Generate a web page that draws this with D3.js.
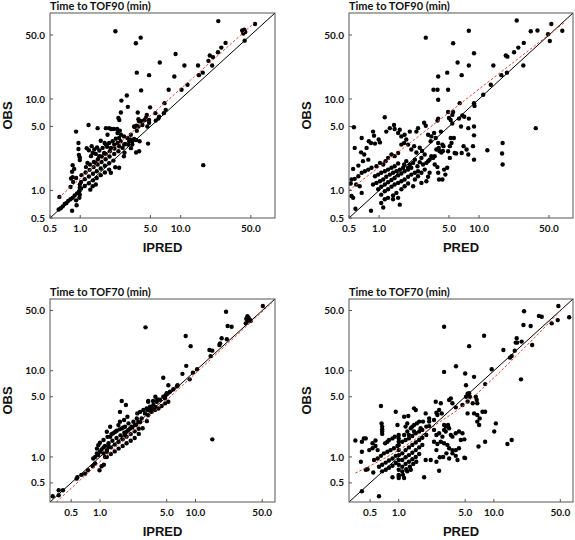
<!DOCTYPE html>
<html><head><meta charset="utf-8">
<script src="https://cdn.jsdelivr.net/npm/d3@7"></script>
<style>body{margin:0;background:#fff}svg{display:block}</style>
</head><body>
<svg id="chart" width="575" height="540"></svg>
<script>
// ---------------- data ----------------
const tickValues = [0.5, 1, 5, 10, 50];
const titles = ["Time to TOF90 (min)", "Time to TOF90 (min)", "Time to TOF70 (min)", "Time to TOF70 (min)"];
const xLabels = ["IPRED", "PRED", "IPRED", "PRED"];
const yLabel = "OBS";
const domainTOF90 = [0.5, 87];
const domainTOF70 = [0.3, 68];

// [x (IPRED or PRED), y (OBS)]
const tof90Ipred = [
[23.7,71],[55,66],[2.24,55],[41,56],[43,57],[42,52],[44,54],[43.4,43.4],[4.0,46.8],[3.58,40.6],[28,41],[25.4,36.4],[8.9,31],[19.5,29.8],[21,28.6],[23.5,32.4],[18.9,26.1],[20.6,23.2],[6.2,25],[10.9,23.2],[14.9,23.2],[16.6,19.4],[15.2,18.2],[3.66,19.4],[4.85,18.2],[8.65,17.6],[11.7,14.3],[10.2,12.6],[7.6,12.6],[4.04,12.4],[2.91,10.9],[2.57,9.6],[6.9,9.0],[2.98,8.2],[4.96,8.1],[2.54,7.1],[3.74,7.1],[4.6,6.7],[5.6,7.0],[6.0,6.1],[2.4,6.2],[2.45,5.9],[3.8,6.0],[3.85,5.7],[4.26,5.8],[4.4,5.9],[3.44,5.0],[3.5,4.95],[3.66,4.5],[4.0,5.7],[4.16,5.2],[3.8,5.0],[3.62,5.1],[4.5,6.2],[4.85,5.9],[4.85,5.5],[4.66,5.0],[6.1,6.4],[5.65,5.8],[6.8,7.0],[7.1,7.6],
[1.21,5.2],[0.91,4.4],[1.49,4.8],[1.8,4.8],[1.94,4.8],[2.03,4.7],[2.16,4.7],[2.33,4.7],[2.48,4.5],[2.35,4.25],[2.54,4.07],[2.73,3.9],[2.95,3.75],[3.07,3.45],[3.3,3.17],[3.2,2.9],[2.8,3.23],[3.0,3.17],[3.19,4.07],[3.14,3.6],[3.3,3.45],[3.44,3.65],[3.6,3.55],[3.9,3.45],[3.6,2.6],[3.86,2.68],[4.74,3.25],[2.76,2.58],[2.72,2.36],[2.23,1.79],[2.44,1.77],[16.8,1.89],
[0.96,3.3],[0.96,2.84],[0.97,2.45],[0.99,2.3],[0.99,2.15],[0.84,1.89],[0.87,1.72],[0.83,1.6],[0.84,1.4],[0.91,1.37],[0.85,1.24],[0.81,1.35],[0.8,1.09],
[0.99,1.16],[0.99,1.07],[0.98,0.98],[0.99,0.9],[0.98,0.83],[0.91,0.78],[0.83,0.6],[0.92,0.69],[0.62,0.85],
[0.61,0.62],[0.64,0.64],[0.67,0.67],[0.7,0.71],[0.73,0.73],[0.76,0.77],[0.8,0.8],[0.84,0.83],[0.88,0.88],[0.93,0.93],[0.97,0.97],
[1.02,1.05],[1.11,1.12],[1.22,1.2],[1.34,1.29],[1.46,1.37],[1.6,1.47],[1.76,1.57],[1.94,1.69],
[1.02,1.24],[1.11,1.33],[1.22,1.42],[1.34,1.52],[1.46,1.62],[1.6,1.74],[1.76,1.86],[1.94,1.98],[2.14,2.12],
[1.03,1.47],[1.13,1.57],[1.24,1.68],[1.36,1.8],[1.49,1.92],[1.63,2.05],[1.79,2.19],[1.96,2.35],[2.18,2.51],[2.4,2.68],
[1.14,1.8],[1.25,1.92],[1.37,2.05],[1.5,2.19],[1.64,2.35],[1.8,2.51],[1.97,2.68],[2.19,2.87],[2.44,3.04],
[1.28,2.37],[1.43,2.51],[1.55,2.73],[1.67,2.92],[1.8,3.17],[1.94,3.3],[2.1,3.45],[2.26,3.68],[2.53,3.45],[2.74,3.17],[1.55,2.37],[1.73,2.57],[1.33,2.57],[1.18,2.0],[2.02,2.92],[2.18,3.17],[2.35,3.3],[2.44,3.75],[2.64,2.92],[1.87,4.07],[1.43,2.0],[1.26,1.02],[1.33,1.11],[1.43,1.16],[2.02,1.56],
[1.16,2.9],[1.22,2.75],[1.3,3.05],[1.38,2.8],[1.47,2.95],[1.6,3.5],[1.75,3.3],[1.85,3.0]
];

const tof90Pred = [
[23.8,72],[52.8,66],[68,55.7],[32.9,55],[38.4,56],[49,51],[51,43],[7.9,55.7],[2.93,46.8],[5.5,40.6],[28,41],[24.7,36.4],[8.9,31.6],[22.4,32.4],[18.5,29.8],[19.2,29],[6.1,25],[7.9,23.2],[13.9,23.2],[27.7,23.2],[4.8,19.4],[16.7,18.2],[19,19.4],[6.7,18.2],[3.9,17.6],[13.1,14.3],[11.0,11.1],[3.5,12.6],[3.84,12.6],[4.9,12.6],[3.9,9.8],[6.4,9.0],[8.9,9.0],[9.0,8.4],[4.9,7.2],[5.5,7.2],[5.4,6.7],[6.8,6.6],[7.1,6.4],[5.0,6.2],[5.2,5.9],[5.4,5.4],[6.3,6.1],[6.6,5.0],[7.9,6.1],[7.8,4.8],[8.9,5.0],[8.9,4.0],[36.9,4.8],[7.0,3.05],[7.8,2.47],[5.9,2.53],[12.1,2.75],[17.2,3.3],[17.0,2.53],[17.2,1.92],[5.2,3.75],[5.6,3.75],[4.8,1.77],[4.47,1.69],[4.6,1.49],[4.3,1.32],[3.98,1.32],[3.9,1.56],[3.9,6.1],[3.84,5.8],[4.15,4.4],[4.3,3.17],[4.4,3.05],[4.2,2.6],[4.35,2.7],[4.9,2.68],[5.1,2.27],[5.7,2.57],[5.1,3.05],[5.3,3.3],[6.7,2.57],[7.5,2.8],[8.7,3.05],[8.9,2.17],
[0.56,4.9],[1.14,6.3],[0.87,4.4],[0.89,3.97],[0.67,3.75],[0.57,2.92],[0.66,2.61],[0.75,2.92],[0.79,3.45],[0.83,3.3],[0.91,3.25],[0.99,3.6],[1.02,3.35],[1.18,4.4],[1.28,4.8],[1.41,5.2],[1.43,4.7],[1.55,4.25],[1.61,4.6],[1.67,3.9],[1.8,4.07],[1.87,3.6],[1.95,3.17],[1.78,3.3],[1.67,3.17],[2.1,2.8],[2.24,3.05],[2.36,2.6],[2.55,2.93],[2.69,2.7],[2.82,5.5],[2.93,5.1],[2.45,4.8],[2.36,4.4],[2.03,4.4],[3.09,4.07],[3.28,3.45],[3.33,3.9],[3.55,4.25],[3.68,3.75],[3.9,3.3],[3.95,2.92],[3.74,2.8],[4.03,2.68],[3.6,2.37],[3.33,2.37],[3.2,2.17],[2.97,2.0],[2.75,1.92],[2.55,2.04],[2.42,1.84],[2.28,2.17],[2.19,2.0],[2.03,1.92],[1.87,2.09],[1.78,1.92],[1.95,1.77],[1.55,2.57],[1.43,2.37],[1.33,2.47],[1.23,2.27],[1.16,2.09],[1.1,1.92],[1.02,2.0],[0.94,1.84],[0.84,1.77],[0.78,1.69],[0.72,1.62],[0.67,1.56],[0.62,1.43],[0.57,1.34],[0.53,1.32],[0.69,2.09],[0.62,1.87],[0.55,1.72],[0.78,2.17],[0.71,2.47],
[0.91,1.43],[0.98,1.49],[1.05,1.56],[1.14,1.62],[1.23,1.69],[1.33,1.77],[1.43,1.84],[1.55,1.97],
[0.87,1.16],[0.94,1.21],[1.02,1.26],[1.1,1.32],[1.18,1.41],[1.28,1.49],[1.38,1.56],[1.49,1.62],[1.61,1.69],[1.74,1.77],
[0.98,1.03],[1.05,1.1],[1.14,1.16],[1.23,1.23],[1.33,1.3],[1.43,1.37],[1.55,1.46],[1.67,1.53],[1.8,1.62],[1.95,1.69],[2.1,1.77],
[1.05,0.9],[1.14,0.98],[1.23,1.03],[1.33,1.1],[1.43,1.16],[1.55,1.21],[1.67,1.26],[1.8,1.32],[1.95,1.41],[2.1,1.49],[2.28,1.56],[2.45,1.62],
[1.05,0.73],[1.14,0.8],[1.23,0.83],[1.38,0.88],[1.49,0.94],[1.67,1.03],[1.8,1.11],[1.95,1.19],
[0.58,0.63],[0.83,0.6],[1.1,0.65],[1.38,0.8],[1.61,0.7],[1.55,0.83],[0.67,0.94],[0.55,0.83],[0.53,0.87],[0.64,1.11],[0.59,1.16],[0.52,1.19],
[2.65,2.27],[2.86,2.47],[3.09,2.09],[3.47,2.27],[3.6,1.92],[2.86,1.69],[2.65,1.56],[2.45,1.43],[2.28,1.32],[2.19,1.11],[2.65,1.21],[3.2,1.56],[3.09,1.41],[2.97,1.26],[3.83,1.8]
];

const tof70Ipred = [
[50.7,56.3],[20.9,48.3],[35,43],[36,41],[37,39],[38,38],[34,40],[35,38],[33.6,35.5],[21.7,33],[23.9,32.4],[3.0,31.9],[7.9,25.3],[21.3,23.2],[18.8,23.8],[18.1,20.8],[17.8,19.9],[8.9,19.3],[14,17.4],[15,17.1],[14.4,14.8],[8.0,11.4],[10.4,10.4],[9.4,9.5],[7.3,9.2],[8.7,7.95],[4.6,8.3],[5.2,6.8],[6.5,6.8],[5.0,5.4],[4.8,5.1],[4.8,4.8],[3.8,5.0],[4.0,4.66],[3.6,4.45],[3.2,4.45],[1.69,4.45],[1.87,4.0],[3.16,3.5],[3.34,3.5],[3.5,3.8],[3.8,3.8],[15,1.6],[0.32,0.35],[0.37,0.41],[0.58,0.58],
[2.46,3.2],[2.63,3.33],[2.85,3.5],[3.08,3.65],[3.34,3.83],[3.62,4.0],[3.93,4.36],[4.25,4.6],[4.6,5.0],[4.99,5.5],[5.4,5.7],[5.86,6.1],[6.4,6.6],[3.2,4.37],[2.96,3.2],[3.2,3.05],[3.48,3.33],[3.77,3.5],[4.1,3.65],[4.42,3.9],[4.8,4.18],[5.2,4.37],[2.73,2.8],[2.52,2.56],[2.33,2.34],[2.15,2.24],[2.24,2.56],[2.43,2.8],[2.07,2.14],[1.9,1.96],[1.83,1.79],[1.99,2.45],[1.83,2.24],[1.69,2.14],[1.56,2.34],[1.62,2.56],[1.79,2.68],[1.94,2.93],[1.62,3.33],[1.28,1.71],[0.99,0.7],[1.04,0.78],[1.1,0.81],
[0.93,1.25],[0.96,1.37],[1.0,1.46],[1.0,1.15],[0.96,1.05],[1.04,1.22],[0.93,1.1],[0.89,1.0],[0.85,0.96],[1.09,1.29],[1.13,1.34],[1.09,1.1],[1.18,1.15],[1.23,1.31],[1.13,1.0],
[1.18,1.0],[1.3,1.08],[1.43,1.16],[1.57,1.25],[1.73,1.34],[1.9,1.44],[2.1,1.54],
[1.18,1.2],[1.3,1.29],[1.43,1.39],[1.57,1.49],[1.73,1.6],[1.9,1.72],[2.1,1.84],[2.31,1.98],[2.55,2.12],
[1.23,1.44],[1.35,1.54],[1.49,1.66],[1.64,1.78],[1.8,1.91],[1.99,2.05],[2.18,2.2],[2.4,2.36],[2.64,2.54],
[1.09,1.57],[1.2,1.71],[1.32,1.84],[1.45,1.96],[1.6,2.09],[1.76,2.2],[1.38,1.88],[1.5,2.01],[1.28,2.24],[1.18,1.96],
[2.31,1.66],[2.55,1.85],[2.8,2.15],[3.1,2.6],
[0.37,0.36],[0.41,0.41],[0.57,0.56],[0.64,0.62],[0.7,0.64],[0.75,0.7],[0.84,0.78],[0.89,0.84]
];

const tof70Pred = [
[47.7,56.3],[62,41.7],[47,38.7],[40.6,35.5],[29.8,43.3],[31.9,42.4],[20.8,49],[20.5,33.9],[24.4,33.1],[3.0,32.4],[7.9,25.5],[17.4,23.8],[17,21.2],[17.6,21.2],[19.6,21.8],[25.3,19.9],[5.5,19.3],[12.6,17.4],[16.6,17.1],[15.4,14.8],[14.8,14.2],[9.5,10.4],[4.0,11.3],[3.0,9.7],[19.3,7.95],[15.4,1.57],
[5.0,9.3],[6.2,8.5],[5.1,6.8],[8.1,7.0],[5.5,5.5],[5.3,5.4],[5.1,5.0],[5.6,5.0],[4.68,4.0],[5.3,4.4],[6.0,4.2],[6.46,5.0],[6.6,4.6],[6.7,4.2],
[5.3,3.2],[6.2,3.2],[6.7,3.06],[6.7,2.57],[7.0,2.35],[7.1,2.8],[7.6,3.35],[8.1,3.35],
[10.5,2.45],[10.1,1.97],[8.1,1.5],[6.9,1.32],[13.9,1.41],[4.9,1.6],[4.5,1.57],[4.9,0.98],[5.0,0.97],[4.15,0.92],
[3.39,1.26],[3.67,1.2],[3.98,1.2],[4.3,1.26],
[2.49,1.2],[2.7,0.99],[2.93,1.0],[3.17,1.1],[3.39,0.96],[3.67,1.1],[3.98,1.03],
[2.35,1.5],[2.55,1.41],[2.77,1.5],[3.0,1.44],[3.25,1.38],
[2.35,2.06],[2.49,1.8],[2.66,1.88],[2.88,1.72],[3.0,2.06],[3.12,1.97],[3.39,2.15],[3.53,1.8],[3.67,1.72],[3.98,1.88],[4.3,1.97],[4.68,1.88],
[1.92,0.92],[2.17,0.92],[2.49,0.88],[1.85,0.58],[2.66,0.69],
[0.93,3.35],[0.97,2.35],[1.14,2.93],[1.26,2.99],[1.45,3.66],[1.51,3.5],[1.64,2.57],[1.8,2.57],[2.09,2.57],[2.35,2.68],[2.45,4.37],[2.49,3.26],[2.55,3.06],[2.66,3.5],[2.77,4.2],[2.83,3.2],[3.0,2.35],[3.12,2.25],[3.3,2.35],[3.53,4.78],[3.67,4.2],[3.39,4.57],[3.98,3.76],[1.92,3.2],[2.09,2.8],[1.7,2.15],[1.39,2.25],[1.45,1.97],[1.28,1.8],[1.18,2.25],[1.23,2.45],
[0.35,1.55],[0.41,1.5],[0.43,1.64],[0.45,1.64],[0.41,1.15],[0.4,0.88],[0.45,0.71],[0.47,0.72],[0.41,0.4],[0.62,0.35],[0.65,3.9],[0.66,2.45],[0.67,2.25],[0.67,2.09],[0.67,1.97],[0.67,1.85],[0.53,1.44],[0.57,1.55],[0.6,1.2],[0.54,0.66],
[0.55,0.92],[0.6,0.96],[0.65,1.03],[0.7,1.1],[0.76,1.15],[0.82,1.2],[0.89,1.26],[0.97,1.34],
[0.62,0.77],[0.67,0.81],[0.73,0.86],[0.79,0.91],[0.86,0.96],[0.93,1.03],
[0.67,0.68],[0.73,0.71],[0.79,0.75],[0.86,0.79],[0.93,0.85],
[0.49,1.2],[0.53,1.26],[0.57,1.34],[0.72,1.44],[0.76,1.5],[0.79,1.57],[0.86,1.64],[0.91,1.72],
[1.0,1.8],[1.0,1.64],[1.0,1.5],[1.0,1.38],[1.0,1.2],[1.0,1.05],[1.0,0.92],[1.0,0.81],[1.0,0.71],[1.0,0.62],[1.0,0.57],
[1.14,1.8],[1.23,1.97],[1.34,2.15],[1.45,2.35],[1.55,2.45],
[1.09,1.5],[1.18,1.57],[1.28,1.64],[1.39,1.75],[1.51,1.88],[1.64,1.97],[1.77,2.06],[1.95,2.25],[2.09,2.28],
[1.09,1.1],[1.18,1.2],[1.28,1.29],[1.39,1.38],[1.51,1.47],[1.64,1.57],[1.77,1.67],[1.95,1.8],
[1.09,0.92],[1.18,0.99],[1.28,1.05],[1.39,1.12],[1.51,1.2],[1.64,1.29],[1.77,1.38],
[1.09,0.77],[1.18,0.83],[1.28,0.88],[1.39,0.94],[1.51,1.0],[1.64,1.08],
[1.09,0.68],[1.2,0.72],[1.31,0.77],[1.42,0.83],[1.53,0.88],
[1.0,0.6],[1.11,0.62],[1.23,0.68],[1.34,0.71],[1.14,0.57],[0.86,0.58]
];

// trend (fit) lines, [x, y] points
const fitTOF90Ipred = [[0.61,0.83],[53.5,67]];
const fitTOF90Pred  = [[0.5,1.0],[71,68]];
const fitTOF70Ipred = [[0.35,0.3],[63,61.5]];
const fitTOF70Pred  = [[0.35,0.65],[1.0,1.2],[2.5,2.4],[5,4.1],[10,8.3],[20,17.5],[54,54]];

// ---------------- layout ----------------
const panels = [
  {points: tof90Ipred, fit: fitTOF90Ipred, domain: domainTOF90, l: 50,  r: 275, t: 13,  b: 218},
  {points: tof90Pred,  fit: fitTOF90Pred,  domain: domainTOF90, l: 349, r: 573, t: 13,  b: 218},
  {points: tof70Ipred, fit: fitTOF70Ipred, domain: domainTOF70, l: 50,  r: 275, t: 299, b: 502},
  {points: tof70Pred,  fit: fitTOF70Pred,  domain: domainTOF70, l: 349, r: 573, t: 299, b: 502}
];

const svg = d3.select("#chart");
const fmt = d3.format(".1f");
const frameColor = "#555";

panels.forEach((p, i) => {
  const x = d3.scaleLog().domain(p.domain).range([p.l, p.r]);
  const y = d3.scaleLog().domain(p.domain).range([p.b, p.t]);
  const g = svg.append("g");

  const clipId = "clip" + i;
  svg.append("clipPath").attr("id", clipId)
    .append("rect").attr("x", p.l).attr("y", p.t).attr("width", p.r - p.l).attr("height", p.b - p.t);

  const plot = g.append("g").attr("clip-path", `url(#${clipId})`);
  const line = d3.line().x(d => x(d[0])).y(d => y(d[1]));
  const curve = d3.line().x(d => x(d[0])).y(d => y(d[1])).curve(d3.curveMonotoneX);

  // identity line
  plot.append("path").datum([[p.domain[0], p.domain[0]], [p.domain[1], p.domain[1]]])
    .attr("d", line).attr("fill", "none").attr("stroke", "#000").attr("stroke-width", 1);

  // points
  plot.selectAll("circle").data(p.points).join("circle")
    .attr("cx", d => x(d[0])).attr("cy", d => y(d[1])).attr("r", 2.2).attr("fill", "#000");

  // fit line
  plot.append("path").datum(p.fit)
    .attr("d", curve).attr("fill", "none").attr("stroke", "#e0442f")
    .attr("stroke-width", 1).attr("stroke-dasharray", "2.5,2");

  // frame
  g.append("rect").attr("x", p.l).attr("y", p.t).attr("width", p.r - p.l).attr("height", p.b - p.t)
    .attr("fill", "none").attr("stroke", frameColor).attr("stroke-width", 1);

  // ticks (inward) and labels
  tickValues.forEach(v => {
    g.append("line").attr("x1", x(v)).attr("x2", x(v)).attr("y1", p.b).attr("y2", p.b - 3)
      .attr("stroke", frameColor);
    g.append("line").attr("x1", p.l).attr("x2", p.l + 3).attr("y1", y(v)).attr("y2", y(v))
      .attr("stroke", frameColor);
    g.append("text").attr("x", x(v)).attr("y", p.b + 13.5)
      .attr("text-anchor", "middle").attr("font-family", "Lato, sans-serif")
      .attr("font-weight", 700).attr("font-size", 10).attr("fill", "#111").text(fmt(v));
    g.append("text").attr("x", p.l - 5).attr("y", y(v) + 3.6)
      .attr("text-anchor", "end").attr("font-family", "Lato, sans-serif")
      .attr("font-weight", 700).attr("font-size", 10).attr("fill", "#111").text(fmt(v));
  });

  // title
  g.append("text").attr("x", p.l).attr("y", p.t - 3.5)
    .attr("font-family", "Lato, sans-serif").attr("font-weight", 700).attr("font-size", 11)
    .attr("fill", "#111").text(titles[i]);

  // axis titles
  g.append("text").attr("x", (p.l + p.r) / 2).attr("y", p.b + 34)
    .attr("text-anchor", "middle").attr("font-family", "'Liberation Sans', Arial, sans-serif")
    .attr("font-weight", 700).attr("font-size", 13).attr("fill", "#111").text(xLabels[i]);
  g.append("text")
    .attr("transform", `translate(${p.l - 38},${(p.t + p.b) / 2}) rotate(-90)`)
    .attr("text-anchor", "middle").attr("font-family", "'Liberation Sans', Arial, sans-serif")
    .attr("font-weight", 700).attr("font-size", 13).attr("fill", "#111").text(yLabel);
});
</script>
</body></html>
